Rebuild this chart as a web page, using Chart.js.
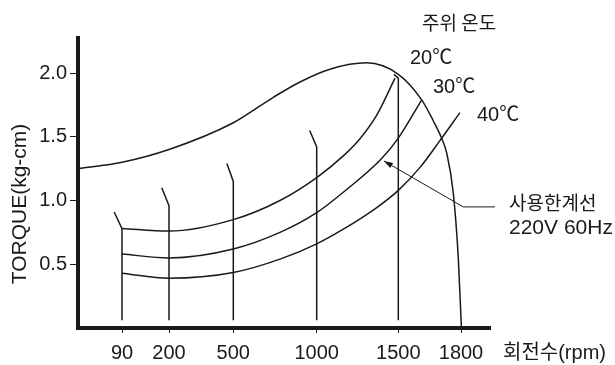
<!DOCTYPE html>
<html><head><meta charset="utf-8">
<script src="https://cdn.jsdelivr.net/npm/chart.js@4.4.0/dist/chart.umd.min.js"></script>
<style>html,body{margin:0;padding:0;background:#fff}#wrap{width:615px;height:365px}</style>
</head><body><div id="wrap"><canvas id="c" width="615" height="365"></canvas></div>
<script>
// ---- data ----
const rpmTicks = [90, 200, 500, 1000, 1500, 1800];
const torqueTicks = [0.5, 1.0, 1.5, 2.0];

const envelopeRpm    = [0, 90, 200, 500, 740, 900, 1081, 1306, 1500, 1612, 1666, 1707, 1732, 1763, 1787, 1802];
const envelopeTorque = [1.25, 1.30, 1.40, 1.61, 1.81, 1.93, 2.03, 2.08, 1.99, 1.79, 1.63, 1.49, 1.37, 1.06, 0.55, 0.0];

const t20Rpm    = [90, 200, 500, 780, 1000, 1163, 1265, 1368, 1480];
const t20Torque = [0.78, 0.76, 0.85, 1.00, 1.18, 1.35, 1.485, 1.67, 1.96];

const t30Rpm    = [90, 200, 500, 780, 1000, 1163, 1398, 1500, 1612];
const t30Torque = [0.58, 0.55, 0.62, 0.75, 0.905, 1.065, 1.33, 1.49, 1.79];

const t40Rpm    = [90, 200, 500, 780, 1000, 1163, 1368, 1500, 1604, 1699, 1795];
const t40Torque = [0.43, 0.39, 0.435, 0.54, 0.66, 0.775, 0.945, 1.08, 1.26, 1.47, 1.69];

const limitRpm  = [90, 200, 500, 1000, 1500];
const limitBase = 0.06;
const limitTop  = [0.78, 0.96, 1.15, 1.42, 1.96];
const stubRpm   = [74, 183, 470, 958, 1473];
const stubTop   = [0.91, 1.10, 1.29, 1.55, 1.99];

const arrowRpm    = [1412, 1811, 1964];
const arrowTorque = [1.31, 0.95, 0.95];

const tempLabels = ['20℃', '30℃', '40℃'];
const headerLabel = '주위 온도';
const noteLabels = ['사용한계선', '220V 60Hz'];
const xTitle = '회전수(rpm)';
const yTitle = 'TORQUE(kg-cm)';

// ---- custom non-uniform rpm scale (schematic axis spacing) ----
const RPM_ANCH = [0, 90, 200, 500, 1000, 1500, 1800, 1940];
const FRAC_ANCH = [0, 44, 91, 155.3, 238.7, 320.3, 383, 412].map(v => v / 412);
function interp(v, xs, ys) {
  let i = 0;
  if (v <= xs[0]) i = 0;
  else if (v >= xs[xs.length - 1]) i = xs.length - 2;
  else { while (v > xs[i + 1]) i++; }
  return ys[i] + (v - xs[i]) * (ys[i + 1] - ys[i]) / (xs[i + 1] - xs[i]);
}
class RpmScale extends Chart.LinearScale {
  getPixelForValue(v) {
    if (v === null || v === undefined) return NaN;
    return this.getPixelForDecimal(interp(v, RPM_ANCH, FRAC_ANCH));
  }
  getValueForPixel(p) {
    return interp(this.getDecimalForPixel(p), FRAC_ANCH, RPM_ANCH);
  }
}
RpmScale.id = 'rpm';
RpmScale.defaults = Chart.LinearScale.defaults;
Chart.register(RpmScale);

const INK = '#1a1a1a';
const LATIN = '"Liberation Sans", Arial, "Noto Sans CJK KR", sans-serif';
const KR = '"Noto Sans CJK KR", "Liberation Sans", sans-serif';

function ds(xs, ys, extra) {
  return Object.assign({
    data: xs.map((v, i) => ({ x: v, y: ys[i] })),
    showLine: true, borderColor: INK, borderWidth: 1.5,
    pointRadius: 0, fill: false, tension: 0
  }, extra || {});
}

const datasets = [
  ds(envelopeRpm, envelopeTorque, { cubicInterpolationMode: 'monotone' }),
  ds(t20Rpm, t20Torque, { cubicInterpolationMode: 'monotone' }),
  ds(t30Rpm, t30Torque, { cubicInterpolationMode: 'monotone' }),
  ds(t40Rpm, t40Torque, { cubicInterpolationMode: 'monotone' }),
  ...limitRpm.map((r, i) => ds([r, r, stubRpm[i]], [limitBase, limitTop[i], stubTop[i]])),
  ds(arrowRpm, arrowTorque, { borderWidth: 1, clip: false })
];

const annotate = {
  id: 'annotate',
  afterDatasetsDraw(chart) {
    const { ctx, scales: { x, y } } = chart;
    ctx.save();
    // arrow head
    const tx = x.getPixelForValue(arrowRpm[0]), ty = y.getPixelForValue(arrowTorque[0]);
    const fx = x.getPixelForValue(arrowRpm[1]), fy = y.getPixelForValue(arrowTorque[1]);
    const a = Math.atan2(ty - fy, tx - fx);
    const L = 9, W = 3;
    ctx.fillStyle = INK;
    ctx.beginPath();
    ctx.moveTo(tx, ty);
    ctx.lineTo(tx - L * Math.cos(a) + W * Math.sin(a), ty - L * Math.sin(a) - W * Math.cos(a));
    ctx.lineTo(tx - L * Math.cos(a) - W * Math.sin(a), ty - L * Math.sin(a) + W * Math.cos(a));
    ctx.closePath();
    ctx.fill();

    ctx.fillStyle = INK;
    ctx.textBaseline = 'middle';
    // header
    ctx.font = '19px ' + KR;
    ctx.textAlign = 'left';
    ctx.fillText(headerLabel, 422, 23);
    // temperature labels
    ctx.font = '20px ' + LATIN;
    const tPos = [[410, 58], [433, 87], [477, 115]];
    tempLabels.forEach((t, i) => ctx.fillText(t, tPos[i][0], tPos[i][1]));
    // note
    ctx.font = '19px ' + KR;
    ctx.fillText(noteLabels[0], 509, 203);
    ctx.font = '21px ' + LATIN;
    ctx.fillText(noteLabels[1], 509, 228);
    // x title
    ctx.font = '20px ' + LATIN;
    ctx.fillText(xTitle, 503, 353);
    // y title
    ctx.translate(20, 204);
    ctx.rotate(-Math.PI / 2);
    ctx.textAlign = 'center';
    ctx.font = '21px ' + LATIN;
    ctx.fillText(yTitle, 0, 0);
    ctx.restore();
  }
};

new Chart(document.getElementById('c'), {
  type: 'scatter',
  data: { datasets },
  plugins: [annotate],
  options: {
    responsive: false,
    animation: false,
    devicePixelRatio: 1,
    events: [],
    layout: { padding: { left: 0, right: 125, top: 38, bottom: 0 } },
    plugins: { legend: { display: false }, tooltip: { enabled: false } },
    scales: {
      x: {
        type: 'rpm', min: 0, max: 1940,
        afterBuildTicks: s => { s.ticks = rpmTicks.map(v => ({ value: v })); },
        afterFit: s => { s.height = 37; },
        ticks: { callback: v => String(v), color: INK, font: { family: LATIN, size: 20 }, padding: 8, maxRotation: 0, autoSkip: false },
        grid: { display: true, drawOnChartArea: false, drawTicks: true, tickLength: 5, color: INK, lineWidth: 1 },
        border: { display: true, color: INK, width: 4 }
      },
      y: {
        min: 0, max: 2.275,
        afterBuildTicks: s => { s.ticks = torqueTicks.map(v => ({ value: v })); },
        afterFit: s => { s.width = 78; },
        ticks: { callback: v => Number(v).toFixed(1), color: INK, font: { family: LATIN, size: 20 }, padding: 3 },
        grid: { display: true, drawOnChartArea: false, drawTicks: true, tickLength: 8, color: INK, lineWidth: 1 },
        border: { display: true, color: INK, width: 4 }
      }
    }
  }
});
</script>
</body></html>
